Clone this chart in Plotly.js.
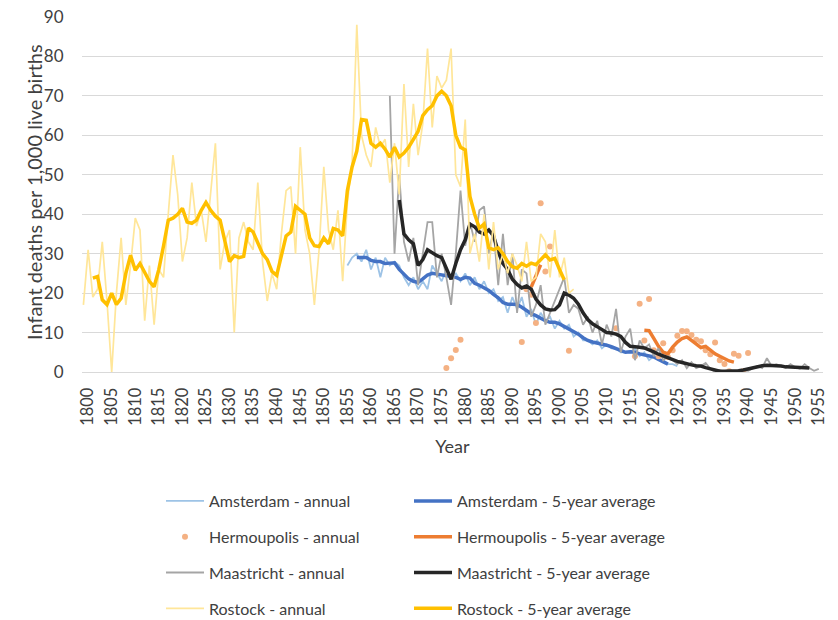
<!DOCTYPE html>
<html>
<head>
<meta charset="utf-8">
<script src="https://cdn.plot.ly/plotly-3.0.1.min.js"></script>
<style>html,body{margin:0;padding:0;background:#fff;}#chart{width:838px;height:620px;}</style>
</head>
<body>
<div id="chart"></div>
<script>
// ---- Data ----
const rostockAnnualStart = 1799;
const rostockAnnual = [17,31,19,21,33,18,0,20,34,17,27,39,36,13,27,12,26,24,40,55,
  45,28,34,48,37,41,33,45,58,26,33,36,10,34,38,33,31,48,28,18,
  25,21,35,46,47,30,57,36,30,17,31,52,36,31,41,23,43,53,88,60,
  55,52,62,57,59,48,58,45,73,52,68,55,63,82,62,75,72,74,82,50,
  47,64,30,35,28,40,26,38,26,30,25,30,27,23,33,23,24,35,33,24,
  36,24,29,20,21];
const rostock5Start = 1801;
const rostock5 = [23.8,24.2,18.3,17.1,20,17.1,18.7,25,29.6,25.8,
  27.5,25,23,21.6,26,32,38.5,39,40,41.5,
  38,37.7,38.5,41,43,41,39.5,38.5,33,28,
  29.5,29,29.3,36.5,35.5,32.5,30,28.5,25.5,24.5,
  29.5,34.5,35.5,42,41,40,34,32,31.8,34,
  32.5,36.4,36,34.5,46,52,56,64,63.8,58,
  57,58,56.5,54.5,57,54.5,55.5,57,59,61,
  65,66.5,67.5,70,71.2,70,67.5,60,57,56.3,
  44.5,40,36.5,37.5,31.5,31,31.5,30,28,26.7,
  26.3,27.5,26.8,27.6,27.2,28.4,29.7,28.4,28.8,26,
  23.4];

const amsterdamAnnualStart = 1855;
const amsterdamAnnual = [27,29,30,28,31,26,29,24,29,27,28,27,24,22,24,21,23,21,27,25,
  23,26,24,25,23,25,22,24,21,23,20,21,18,19,15,19,16,19,14,16,
  12,15,13,14,11,13,11,12,9,10,8,8,7,8,6,7,6,6,5,5,
  5,6,4,5,3,4,3,3,2,2,1.5];
const amsterdam5Start = 1857;
const amsterdam5 = [29,29,29,28.3,28,28,27.5,27.6,27.7,26,
  24.8,23.6,23,22.7,23.6,24.6,25,24.8,24.6,24.5,
  24.4,24,23.5,24,23.8,22.5,22,21.4,20.7,19.7,
  18.8,17.6,17.2,17.2,17.1,16.4,15.6,14.8,14.3,13.6,
  13,12.6,12.6,12.2,11.6,11,10.4,9.6,8.7,8,
  7.6,7.4,7.2,6.8,6.4,5.9,5.6,5,5.1,5,
  4.6,4.3,4.1,3.8,3.2,2.7,2];

const maastrichtAnnualStart = 1864;
const maastrichtAnnual = [70,30,50,33,28,34,22,30,38,38,24,30,24,17,30,46,32,38,33,41,
  42,30,36,22,35,22,30,15,26,25,14,17,22,12,15,18,21,24,15,17,
  16,12,14,10,13,7,12,9,16,5,9,11,3,8,6,7,4,6,3,4,
  3,2,3,1,2.5,1,1.5,2.3,0.8,0,0.5,0,0.5,0,0.5,0.5,0.3,1,1.5,1,
  3.5,1.5,2,1.5,1,2,1.2,0.8,2,1,0.3,0.8];
const maastricht5Start = 1866;
const maastricht5 = [43.6,35,33.5,32.5,27,28.5,31,30.2,29.5,29,
  26,23.5,27.5,31,33.5,37.5,36.8,35.5,35,36,
  34.5,30.5,27.5,26,23.5,22.2,21.3,21.8,21,18.5,
  17,16,15.7,15.8,17,20,19.5,18.7,17.2,15,
  13.3,12.2,11.5,10.8,10,9.9,9.6,9,7.5,6.5,
  6.5,6.3,6.1,5.7,5.1,4.5,4,3.7,3.2,2.7,
  2.4,2,1.8,1.6,1.5,1.1,0.8,0.4,0.2,0.2,
  0.2,0.2,0.3,0.5,0.8,1.1,1.4,1.6,1.7,1.7,
  1.6,1.5,1.3,1.3,1.2,1.2,1.1,1.0];

const hermoupolisAnnualYears = [1876,1877,1878,1879,1892,1893,1894,1895,1896,1897,1898,1902,1912,
  1916,1917,1918,1919,1920,1921,1922,1923,1924,1925,1926,1927,1928,1929,1930,1931,1932,1933,
  1934,1935,1936,1937,1938,1939,1940];
const hermoupolisAnnual = [1.0,3.5,5.6,8.2,7.6,21,19.6,12.4,42.8,25.5,31.8,5.4,11.1,
  4,17.3,8,18.5,5.5,4,7.3,3.8,5.5,9.2,10.4,10.3,9.4,8.2,7.8,5.5,4.5,7.5,
  3,2,0.2,4.6,4.1,0.2,4.8];
const hermoupolis5Years = [1894,1895,1896,1897,1918,1919,1920,1921,1922,1923,1924,1925,1926,1927,
  1928,1929,1930,1931,1932,1933,1934,1935,1936,1937];
const hermoupolis5 = [21.5,24.3,27.2,null,10.6,10.5,8.5,6.5,5,4.6,6.3,7.6,8.5,8.9,
  8,7,6.2,6.5,5.4,4.6,4,3.4,2.8,2.5];

const seriesNames = {
  amsA: 'Amsterdam - annual', ams5: 'Amsterdam - 5-year average',
  herA: 'Hermoupolis - annual', her5: 'Hermoupolis - 5-year average',
  maaA: 'Maastricht - annual', maa5: 'Maastricht - 5-year average',
  rosA: 'Rostock - annual', ros5: 'Rostock - 5-year average'
};
const xTitle = 'Year';
const yTitle = 'Infant deaths per 1,000 live births';

function yearsFrom(start, arr) { return arr.map((_, i) => start + i); }

const C = {
  amsA: '#9dc3e6', ams5: '#4472c4',
  herA: '#f4b183', her5: '#ed7d31',
  maaA: '#a5a5a5', maa5: '#262626',
  rosA: '#ffe699', ros5: '#ffc000'
};

function line(name, x, y, color, width, legend, group) {
  return {type: 'scatter', mode: 'lines', name: name, x: x, y: y,
    line: {color: color, width: width}, legend: legend, legendgroup: group,
    connectgaps: false, hoverinfo: 'x+y+name'};
}

const traces = [
  line(seriesNames.amsA, yearsFrom(amsterdamAnnualStart, amsterdamAnnual), amsterdamAnnual, C.amsA, 1.8, 'legend', 'g1'),
  line(seriesNames.ams5, yearsFrom(amsterdam5Start, amsterdam5), amsterdam5, C.ams5, 3.5, 'legend2', 'g2'),
  {type: 'scatter', mode: 'markers', name: seriesNames.herA, x: hermoupolisAnnualYears, y: hermoupolisAnnual,
    marker: {color: C.herA, size: 6}, legend: 'legend', legendgroup: 'g3'},
  line(seriesNames.her5, hermoupolis5Years, hermoupolis5, C.her5, 3.5, 'legend2', 'g4'),
  line(seriesNames.maaA, yearsFrom(maastrichtAnnualStart, maastrichtAnnual), maastrichtAnnual, C.maaA, 1.8, 'legend', 'g5'),
  line(seriesNames.maa5, yearsFrom(maastricht5Start, maastricht5), maastricht5, C.maa5, 3.5, 'legend2', 'g6'),
  line(seriesNames.rosA, yearsFrom(rostockAnnualStart, rostockAnnual), rostockAnnual, C.rosA, 1.7, 'legend', 'g7'),
  line(seriesNames.ros5, yearsFrom(rostock5Start, rostock5), rostock5, C.ros5, 3.5, 'legend2', 'g8')
];

const FONT = 'Lato, "Open Sans", "Liberation Sans", sans-serif';
const TEXT = '#404040';
const legendCommon = {
  xref: 'container', yref: 'container', xanchor: 'left', yanchor: 'top',
  orientation: 'v', tracegroupgap: 12, itemwidth: 38, bgcolor: 'rgba(0,0,0,0)',
  font: {family: FONT, size: 16, color: TEXT}, traceorder: 'grouped'
};

const layout = {
  width: 838, height: 620,
  margin: {l: 82, r: 15, t: 17, b: 248, autoexpand: false},
  paper_bgcolor: '#ffffff', plot_bgcolor: '#ffffff',
  font: {family: FONT, size: 16, color: TEXT},
  showlegend: true,
  xaxis: {
    range: [1798.7, 1955.9], tickmode: 'linear', tick0: 1800, dtick: 5,
    tickangle: -90, showgrid: false, zeroline: false, showline: true, automargin: false,
    linecolor: '#d9d9d9', linewidth: 1, ticks: 'outside', ticklen: 8, tickcolor: 'rgba(0,0,0,0)',
    tickfont: {family: FONT, size: 16.5, color: TEXT},
    title: {text: xTitle, font: {family: FONT, size: 18, color: TEXT}, standoff: 15}
  },
  yaxis: {
    range: [0, 90], tickmode: 'linear', tick0: 0, dtick: 10, automargin: false,
    showgrid: true, gridcolor: '#d9d9d9', gridwidth: 1, zeroline: false, showline: false,
    ticks: 'outside', ticklen: 14, tickcolor: 'rgba(0,0,0,0)',
    tickfont: {family: FONT, size: 17, color: TEXT}
  },
  annotations: [{
    text: yTitle, textangle: -90, xref: 'paper', yref: 'paper',
    x: (34 - 82) / 740.6, y: (372.3 - 192) / 355.6, xanchor: 'center', yanchor: 'middle', showarrow: false,
    font: {family: FONT, size: 20, color: TEXT}
  }],
  legend: Object.assign({}, legendCommon, {x: 161 / 838, y: 1 - 484 / 620}),
  legend2: Object.assign({}, legendCommon, {x: 409 / 838, y: 1 - 484 / 620})
};

Plotly.newPlot('chart', traces, layout, {displayModeBar: false, staticPlot: true});
</script>
</body>
</html>
